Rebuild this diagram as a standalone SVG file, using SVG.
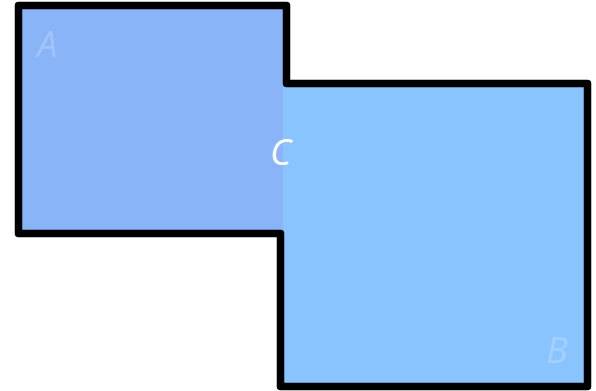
<svg xmlns="http://www.w3.org/2000/svg" width="596" height="391" viewBox="0 0 596 391">
<style>
.lbl{font-family:"Open Sans","Noto Sans",sans-serif;font-style:italic;font-size:36px}
.faint{fill:#ffffff;fill-opacity:0.22}
</style>
<rect width="596" height="391" fill="#ffffff"/>
<g id="A">
<rect x="18.5" y="5.5" width="265" height="228" fill="#8AB4F8"/>
<text class="lbl faint" x="37" y="57">A</text>
</g>
<g id="B">
<rect x="283" y="83.5" width="304.5" height="303" fill="#8AC4FF"/>
<text class="lbl faint" x="546" y="363">B</text>
</g>
<g id="outline">
<path d="M18.5,5.5 H286.5 V83.5 H587.5 V386.5 H280.5 V233.5 H18.5 Z" fill="none" stroke="#000000" stroke-width="7.5" stroke-linejoin="round"/>
</g>
<g id="C">
<text class="lbl" x="270" y="165" fill="#ffffff">C</text>
</g>
</svg>
